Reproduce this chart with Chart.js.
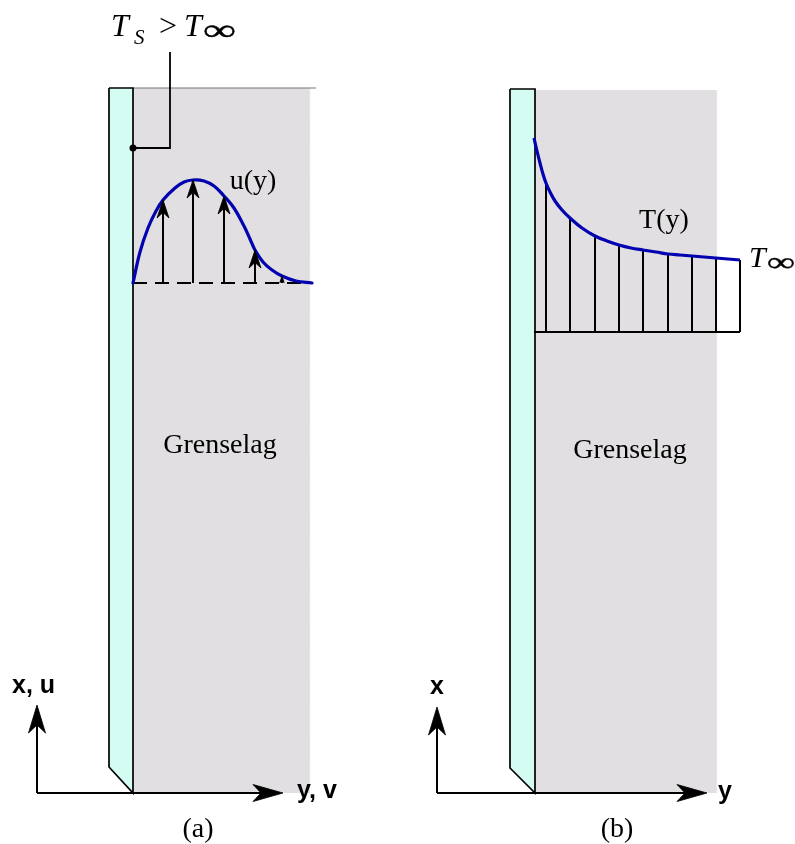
<!DOCTYPE html>
<html>
<head>
<meta charset="utf-8">
<title>Grenselag</title>
<script src="https://cdn.jsdelivr.net/npm/chart.js@4.4.0/dist/chart.umd.min.js"></script>
<style>
  html, body { margin: 0; padding: 0; background: #fff; }
  canvas { display: block; }
</style>
</head>
<body>
<canvas id="fig" width="795" height="844"></canvas>
<script>
// ---- data (figure units, y grows downward) ----

// (a) velocity profile u(y) and the stations where velocity arrows are drawn
const uY   = [133, 140, 148, 156, 163, 175, 184, 193, 204, 214, 224, 234, 244, 250, 255, 263, 272, 282, 296, 312];
const uVal = [283, 252, 228, 211, 200, 188, 182, 180, 181, 186, 196, 208, 226, 239, 250, 262, 270, 276, 281, 283];
const uArrowAt = [163, 193, 224, 255, 282];
const uBase = 283;

// (b) temperature profile T(y) and the hatch stations
const tY   = [534, 537, 540, 543, 546, 550, 555, 562, 570, 582, 595, 607, 619, 631, 643, 656, 668, 680, 692, 704, 716, 740];
const tVal = [138, 151, 163, 174, 183, 192, 201, 210, 218, 228, 236, 241, 245, 248, 250, 252, 254, 255, 256, 257, 258, 260];
const tHatchAt = [546, 570, 595, 619, 643, 668, 692, 716, 740];
const tBase = 332;

// plates and boundary layer regions
const wallA  = [[109, 88], [133, 88], [133, 793], [109, 767]];
const wallB  = [[510, 89], [535, 89], [535, 793], [510, 768]];
const layerA = [[133, 88], [310, 88], [310, 793], [133, 793]];
const layerB = [[535, 90], [717, 90], [717, 793], [535, 793]];

// coordinate axes: origin, top of vertical arrow, end of horizontal arrow
const axisOrigin = [[37, 793], [437, 793]];
const axisTop    = [705, 707];
const axisRight  = [283, 707];

// leader from the plate to the surface temperature note
const leader = [[133, 148], [170, 148], [170, 52]];

// text
const serifText = ['u(y)', 'T(y)', 'Grenselag', 'Grenselag', '(a)', '(b)'];
const serifX    = [253, 664, 220, 630, 198, 617];
const serifY    = [189, 228, 453, 458, 837, 837];
const sansText  = ['x, u', 'y, v', 'x', 'y'];
const sansX     = [12, 297, 437, 718];
const sansY     = [693, 798, 694, 799];
const sansAlign = ['left', 'left', 'center', 'left'];

// ---- build datasets ----
const BLUE = '#0202b0';
const layers = [];

function pts(list) {
  return list.map(function (p) { return {x: p[0], y: p[1]}; });
}

function addShape(points, opts) {
  layers.push(Object.assign({
    data: pts(points),
    borderColor: '#000',
    borderWidth: 2,
    backgroundColor: 'transparent',
    fill: false,
    pointRadius: 0,
    tension: 0,
    borderJoinStyle: 'miter'
  }, opts));
}

function closed(poly) {
  return poly.concat([poly[0]]);
}

function addHead(tip, ux, uy, len, half, notch) {
  const nx = -uy, ny = ux;
  const bx = tip[0] - ux * len, by = tip[1] - uy * len;
  addShape([
    tip,
    [bx + nx * half, by + ny * half],
    [tip[0] - ux * (len - notch), tip[1] - uy * (len - notch)],
    [bx - nx * half, by - ny * half],
    tip
  ], {fill: 'shape', backgroundColor: '#000', borderWidth: 0.8});
}

function addArrow(from, to, len, half, notch, width) {
  const dx = to[0] - from[0], dy = to[1] - from[1];
  const d = Math.hypot(dx, dy);
  const ux = dx / d, uy = dy / d;
  const l = Math.min(len, d * 0.95);
  const k = l / len;
  addShape([from, [to[0] - ux * l * 0.6, to[1] - uy * l * 0.6]], {borderWidth: width});
  addHead(to, ux, uy, l, half * k, notch * k);
}

// boundary layers
addShape(closed(layerA), {fill: 'shape', backgroundColor: '#e1dfe1', borderWidth: 0});
addShape(closed(layerB), {fill: 'shape', backgroundColor: '#e1dfe1', borderWidth: 0});
addShape([layerA[1], layerA[2]], {borderColor: '#f3f3f3', borderWidth: 1, borderDash: [4, 3]});
addShape([layerB[1], layerB[2]], {borderColor: '#f3f3f3', borderWidth: 1, borderDash: [4, 3]});
addShape([layerA[0], [316, 88]], {borderColor: '#777', borderWidth: 1.2});

// plates
addShape(closed(wallA), {fill: 'shape', backgroundColor: '#d4fcf3', borderWidth: 1.7});
addShape(closed(wallB), {fill: 'shape', backgroundColor: '#d4fcf3', borderWidth: 1.7});

// axes
for (let i = 0; i < axisOrigin.length; i++) {
  const o = axisOrigin[i];
  addArrow(o, [o[0], axisTop[i]], 28, 8.5, 8, 2);
  addArrow(o, [axisRight[i], o[1]], 30, 8.5, 8, 2);
}

// (a) leader line and dot
addShape(leader, {borderWidth: 1.8});
addShape([leader[0]], {pointRadius: 3.5, pointBackgroundColor: '#000', pointBorderWidth: 0});

// (a) dashed reference line, profile and arrows
addShape([[uY[0], uBase], [uY[uY.length - 1], uBase]], {borderWidth: 2, borderDash: [14, 8]});
addShape(uY.map(function (v, i) { return [v, uVal[i]]; }),
  {borderColor: BLUE, borderWidth: 3.2, tension: 0.4, borderJoinStyle: 'round', borderCapStyle: 'round'});
uArrowAt.forEach(function (s) {
  const tip = uVal[uY.indexOf(s)];
  addArrow([s, uBase], [s, tip], 18, 6, 5.5, 2);
});

// (b) hatch lines under the profile
addShape([[tY[0], tBase], [tY[tY.length - 1], tBase]], {borderWidth: 2});
tHatchAt.forEach(function (s) {
  addShape([[s, tBase], [s, tVal[tY.indexOf(s)]]], {borderWidth: 2});
});
addShape(tY.map(function (v, i) { return [v, tVal[i]]; }),
  {borderColor: BLUE, borderWidth: 3.2, tension: 0.4, borderJoinStyle: 'round'});

// first added is drawn first
layers.forEach(function (d, i) { d.order = layers.length - i; });

// ---- text ----
const SERIF = '"Liberation Serif", "DejaVu Serif", serif';
const SANS = '"Liberation Sans", Arial, sans-serif';

// infinity sign, stretched to the given width and a touch heavier
function drawInfinity(ctx, x, y, size, width) {
  ctx.save();
  ctx.font = size + 'px ' + SERIF;
  const w = ctx.measureText('\u221E').width;
  ctx.translate(x, y);
  ctx.scale(width / w, 1);
  ctx.textAlign = 'left';
  ctx.lineWidth = 0.4;
  ctx.strokeStyle = '#000';
  ctx.fillText('\u221E', 0, 0);
  ctx.strokeText('\u221E', 0, 0);
  ctx.restore();
}

const textPlugin = {
  id: 'figureText',
  afterDatasetsDraw: function (chart) {
    const ctx = chart.ctx;
    const sx = chart.scales.x, sy = chart.scales.y;
    const px = function (v) { return sx.getPixelForValue(v); };
    const py = function (v) { return sy.getPixelForValue(v); };
    ctx.save();
    ctx.fillStyle = '#000';
    ctx.textBaseline = 'alphabetic';

    ctx.textAlign = 'center';
    ctx.font = '28px ' + SERIF;
    serifText.forEach(function (t, i) { ctx.fillText(t, px(serifX[i]), py(serifY[i])); });

    ctx.font = 'bold 25px ' + SANS;
    sansText.forEach(function (t, i) {
      ctx.textAlign = sansAlign[i];
      ctx.fillText(t, px(sansX[i]), py(sansY[i]));
    });

    // T_S > T_inf
    ctx.textAlign = 'left';
    ctx.font = 'italic 32px ' + SERIF;
    ctx.fillText('T', px(111), py(36));
    ctx.font = 'italic 21px ' + SERIF;
    ctx.fillText('S', px(134), py(44));
    ctx.font = '32px ' + SERIF;
    ctx.fillText('>', px(159), py(36));
    ctx.font = 'italic 32px ' + SERIF;
    ctx.fillText('T', px(184), py(36));
    drawInfinity(ctx, px(203), py(40), 30, 33);

    // T_inf at the outer edge of the profile
    ctx.font = 'italic 30px ' + SERIF;
    ctx.fillText('T', px(749), py(267));
    drawInfinity(ctx, px(767), py(271), 27, 28);
    ctx.restore();
  }
};

new Chart(document.getElementById('fig'), {
  type: 'line',
  data: {datasets: layers},
  options: {
    responsive: false,
    animation: false,
    devicePixelRatio: 1,
    events: [],
    layout: {padding: 0, autoPadding: false},
    scales: {
      x: {type: 'linear', min: 0, max: 795, display: false},
      y: {type: 'linear', min: 0, max: 844, reverse: true, display: false}
    },
    plugins: {
      legend: {display: false},
      tooltip: {enabled: false},
      filler: {propagate: false}
    }
  },
  plugins: [textPlugin]
});
</script>
</body>
</html>
